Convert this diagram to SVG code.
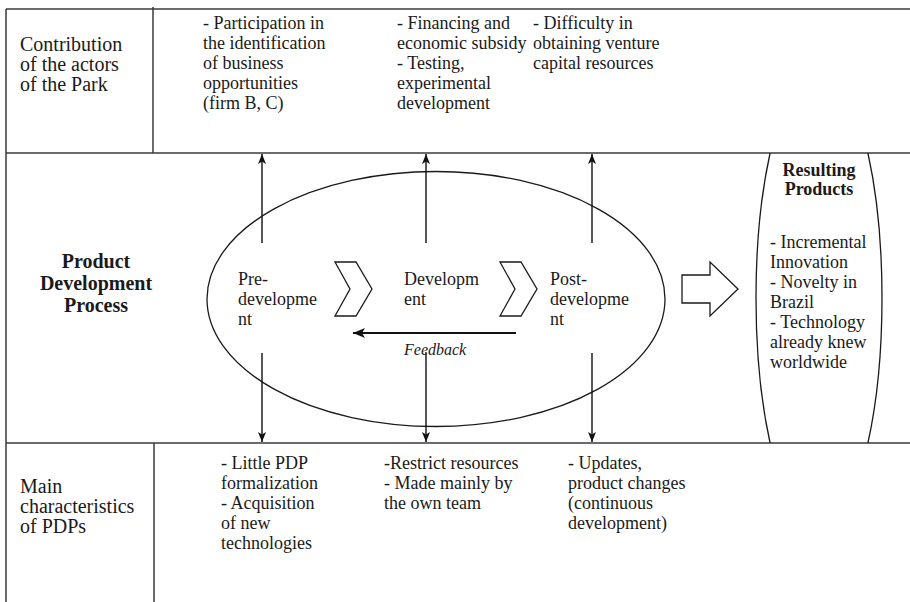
<svg xmlns="http://www.w3.org/2000/svg" width="910" height="602" viewBox="0 0 910 602">
<style>
  .grid { stroke: #3a3a3a; stroke-width: 1.5; fill: none; }
  .shape { stroke: #1a1a1a; stroke-width: 1.3; fill: none; }
  .conn { stroke: #111; stroke-width: 1.4; fill: none; }
  .fb { stroke: #111; stroke-width: 2.2; fill: none; }
  text { font-family: "Liberation Serif", "Times New Roman", serif; fill: #1a1a1a; }
  .lbl { font-size: 20px; }
  .t { font-size: 18px; }
  .b { font-weight: bold; }
  .it { font-style: italic; font-size: 16px; }
</style>
<defs>
  <marker id="ah" markerUnits="userSpaceOnUse" viewBox="0 0 10 8" refX="10" refY="4" markerWidth="10" markerHeight="8" orient="auto">
    <path d="M0,0 L10,4 L0,8 L2.5,4 Z" fill="#111"/>
  </marker>
  <marker id="ahf" markerUnits="userSpaceOnUse" viewBox="0 0 12 10" refX="12" refY="5" markerWidth="12" markerHeight="10" orient="auto">
    <path d="M0,0 L12,5 L0,10 L3,5 Z" fill="#111"/>
  </marker>
</defs>

<g id="table">
  <line class="grid" x1="6" y1="9" x2="910" y2="9"/>
  <line class="grid" x1="6" y1="153" x2="910" y2="153"/>
  <line class="grid" x1="6" y1="443" x2="910" y2="443"/>
  <line class="grid" x1="6" y1="9" x2="6" y2="602"/>
  <line class="grid" x1="153" y1="7" x2="153" y2="153"/>
  <line class="grid" x1="154" y1="443" x2="154" y2="602"/>
</g>

<g id="row-contribution">
  <text class="lbl" x="20" y="51">Contribution</text>
  <text class="lbl" x="20" y="71">of the actors</text>
  <text class="lbl" x="20" y="91">of the Park</text>
</g>
<g id="contrib-pre">
  <text class="t" x="203" y="29">- Participation in</text>
  <text class="t" x="203" y="49">the identification</text>
  <text class="t" x="203" y="69">of business</text>
  <text class="t" x="203" y="89">opportunities</text>
  <text class="t" x="203" y="109">(firm B, C)</text>
</g>
<g id="contrib-dev">
  <text class="t" x="397" y="29">- Financing and</text>
  <text class="t" x="397" y="49">economic subsidy</text>
  <text class="t" x="397" y="69">- Testing,</text>
  <text class="t" x="397" y="89">experimental</text>
  <text class="t" x="397" y="109">development</text>
</g>
<g id="contrib-post">
  <text class="t" x="533" y="29">- Difficulty in</text>
  <text class="t" x="533" y="49">obtaining venture</text>
  <text class="t" x="533" y="69">capital resources</text>
</g>

<g id="row-process">
  <text class="lbl b" x="96" y="268" text-anchor="middle">Product</text>
  <text class="lbl b" x="96" y="290" text-anchor="middle">Development</text>
  <text class="lbl b" x="96" y="312" text-anchor="middle">Process</text>
</g>

<g id="process-ellipse">
  <ellipse class="shape" cx="436" cy="299" rx="229" ry="127.5"/>
</g>
<g id="pre-development">
  <text class="t" x="238" y="285">Pre-</text>
  <text class="t" x="238" y="305">developme</text>
  <text class="t" x="238" y="325">nt</text>
</g>
<g id="chevron-1">
  <path class="shape" d="M335,262 L356,262 L372,289 L356,316 L335,316 L350,289 Z"/>
</g>
<g id="development">
  <text class="t" x="404" y="285">Developm</text>
  <text class="t" x="404" y="305">ent</text>
</g>
<g id="chevron-2">
  <path class="shape" d="M500,262 L521,262 L537,289 L521,316 L500,316 L515,289 Z"/>
</g>
<g id="post-development">
  <text class="t" x="550" y="285">Post-</text>
  <text class="t" x="550" y="305">developme</text>
  <text class="t" x="550" y="325">nt</text>
</g>
<g id="block-arrow">
  <path class="shape" d="M682,275 L710,275 L710,262 L738,289 L710,316 L710,303 L682,303 Z"/>
</g>
<g id="resulting-products">
  <path class="shape" d="M770.1,153 A63,230 0 0 0 770.1,443"/>
  <path class="shape" d="M867.9,153 A63,230 0 0 1 867.9,443"/>
  <text class="t b" x="819" y="176" text-anchor="middle">Resulting</text>
  <text class="t b" x="819" y="195" text-anchor="middle">Products</text>
  <text class="t" x="770" y="248">- Incremental</text>
  <text class="t" x="770" y="268">Innovation</text>
  <text class="t" x="770" y="288">- Novelty in</text>
  <text class="t" x="770" y="308">Brazil</text>
  <text class="t" x="770" y="328">- Technology</text>
  <text class="t" x="770" y="348">already knew</text>
  <text class="t" x="770" y="368">worldwide</text>
</g>

<g id="row-characteristics">
  <text class="lbl" x="20" y="493">Main</text>
  <text class="lbl" x="20" y="513">characteristics</text>
  <text class="lbl" x="20" y="533">of PDPs</text>
</g>
<g id="char-pre">
  <text class="t" x="221" y="469">- Little PDP</text>
  <text class="t" x="221" y="489">formalization</text>
  <text class="t" x="221" y="509">- Acquisition</text>
  <text class="t" x="221" y="529">of new</text>
  <text class="t" x="221" y="549">technologies</text>
</g>
<g id="char-dev">
  <text class="t" x="384" y="469">-Restrict resources</text>
  <text class="t" x="384" y="489">- Made mainly by</text>
  <text class="t" x="384" y="509">the own team</text>
</g>
<g id="char-post">
  <text class="t" x="568" y="469">- Updates,</text>
  <text class="t" x="568" y="489">product changes</text>
  <text class="t" x="568" y="509">(continuous</text>
  <text class="t" x="568" y="529">development)</text>
</g>

<g id="connectors">
  <line class="conn" x1="262" y1="243" x2="262" y2="154" marker-end="url(#ah)"/>
  <line class="conn" x1="426" y1="243" x2="426" y2="154" marker-end="url(#ah)"/>
  <line class="conn" x1="592" y1="243" x2="592" y2="154" marker-end="url(#ah)"/>
  <line class="conn" x1="262" y1="353" x2="262" y2="442" marker-end="url(#ah)"/>
  <line class="conn" x1="426" y1="352" x2="426" y2="442" marker-end="url(#ah)"/>
  <line class="conn" x1="592" y1="353" x2="592" y2="442" marker-end="url(#ah)"/>
  <line class="fb" x1="516" y1="333" x2="353" y2="333" marker-end="url(#ahf)"/>
  <text class="it" x="404" y="355">Feedback</text>
</g>
</svg>
